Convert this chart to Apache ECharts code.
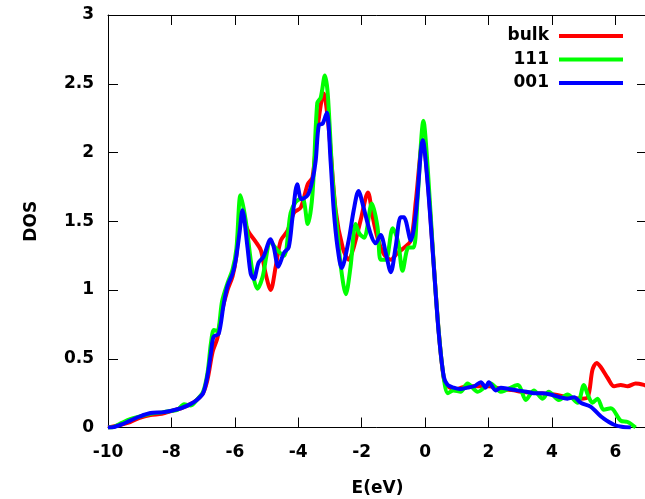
<!DOCTYPE html>
<html>
<head>
<meta charset="utf-8">
<script src="https://cdn.jsdelivr.net/npm/echarts@6/dist/echarts.min.js"></script>
<style>html,body{margin:0;padding:0;background:#fff;}#c{width:645px;height:499px;}</style>
</head>
<body>
<div id="c"></div>
<script>
const seriesNames = ['bulk', '111', '001'];

const bulkE = [-10,-9.6,-9.3,-9.0,-8.66,-8.3,-8.0,-7.7,-7.4,-7.2,-7.0,-6.86,-6.7,-6.55,-6.4,-6.23,-6.07,-5.95,-5.82,-5.7,-5.56,-5.34,-5.18,-5.03,-4.87,-4.71,-4.55,-4.34,-4.14,-3.92,-3.7,-3.55,-3.39,-3.2,-3.04,-2.82,-2.6,-2.41,-2.25,-2.03,-1.8,-1.65,-1.5,-1.3,-1.08,-0.87,-0.7,-0.45,-0.29,-0.07,0.08,0.27,0.43,0.59,0.72,1.0,1.3,1.6,2.0,2.4,2.8,3.02,3.5,4.07,4.5,4.91,5.13,5.28,5.41,5.54,5.76,5.96,6.17,6.39,6.64,6.9,7.0];
const bulkDOS = [0,0.02,0.04,0.07,0.09,0.1,0.12,0.14,0.17,0.2,0.25,0.35,0.55,0.65,0.85,1.0,1.1,1.25,1.56,1.5,1.42,1.35,1.29,1.12,1.0,1.17,1.36,1.43,1.56,1.6,1.77,1.82,2.18,2.43,2.18,1.58,1.31,1.22,1.31,1.51,1.71,1.53,1.38,1.26,1.22,1.27,1.3,1.36,1.65,2.09,1.8,1.2,0.7,0.36,0.3,0.28,0.3,0.3,0.3,0.28,0.27,0.26,0.25,0.24,0.22,0.21,0.22,0.42,0.47,0.44,0.36,0.30,0.31,0.30,0.32,0.31,0.3];

const e111 = [-10,-9.9,-9.6,-9.3,-9.0,-8.66,-8.3,-8.03,-7.8,-7.6,-7.4,-7.2,-7.0,-6.86,-6.75,-6.66,-6.55,-6.4,-6.23,-6.07,-5.95,-5.82,-5.66,-5.45,-5.29,-5.13,-4.87,-4.66,-4.45,-4.24,-4.08,-3.87,-3.7,-3.55,-3.4,-3.29,-3.16,-3.07,-2.92,-2.76,-2.64,-2.5,-2.35,-2.19,-2.07,-1.92,-1.68,-1.5,-1.4,-1.24,-1.02,-0.85,-0.71,-0.52,-0.36,-0.24,-0.05,0.08,0.27,0.43,0.59,0.72,0.9,1.12,1.34,1.66,2.07,2.39,2.92,3.18,3.43,3.71,3.9,4.22,4.49,4.81,5.01,5.13,5.28,5.44,5.63,5.86,6.17,6.39,6.64];
const dos111 = [0,0,0.03,0.06,0.08,0.1,0.11,0.12,0.13,0.17,0.16,0.2,0.26,0.4,0.62,0.71,0.7,0.92,1.05,1.15,1.3,1.69,1.51,1.14,1.01,1.09,1.35,1.29,1.25,1.56,1.64,1.67,1.48,1.70,2.36,2.40,2.56,2.43,1.82,1.41,1.14,0.97,1.17,1.48,1.41,1.38,1.63,1.46,1.22,1.22,1.45,1.35,1.14,1.31,1.31,1.65,2.23,1.9,1.2,0.7,0.36,0.25,0.27,0.26,0.32,0.26,0.32,0.26,0.31,0.2,0.27,0.21,0.26,0.2,0.24,0.18,0.31,0.24,0.18,0.21,0.13,0.14,0.05,0.04,0];

const e001 = [-10,-9.9,-9.6,-9.3,-9.0,-8.66,-8.3,-8.03,-7.7,-7.4,-7.2,-7.0,-6.86,-6.75,-6.67,-6.51,-6.35,-6.23,-6.07,-5.97,-5.85,-5.76,-5.6,-5.5,-5.4,-5.25,-5.1,-4.87,-4.77,-4.63,-4.45,-4.3,-4.18,-4.03,-3.9,-3.7,-3.55,-3.45,-3.35,-3.23,-3.1,-2.98,-2.88,-2.76,-2.63,-2.41,-2.25,-2.1,-1.94,-1.72,-1.56,-1.4,-1.24,-1.08,-0.93,-0.77,-0.67,-0.45,-0.29,-0.07,0.08,0.27,0.43,0.59,0.71,0.9,1.1,1.34,1.55,1.76,1.91,2.01,2.23,2.39,2.65,2.92,3.2,3.43,3.7,3.96,4.25,4.49,4.7,4.91,5.23,5.55,5.8,5.96,6.2,6.49];
const dos001 = [0,0,0.02,0.05,0.08,0.105,0.11,0.12,0.14,0.17,0.2,0.25,0.38,0.55,0.66,0.68,0.90,1.03,1.12,1.22,1.42,1.58,1.31,1.12,1.08,1.2,1.24,1.37,1.31,1.17,1.27,1.31,1.53,1.77,1.66,1.69,1.8,1.94,2.2,2.21,2.29,1.94,1.58,1.31,1.16,1.36,1.58,1.72,1.60,1.41,1.34,1.40,1.27,1.13,1.31,1.53,1.53,1.36,1.56,2.09,1.78,1.19,0.69,0.37,0.31,0.29,0.28,0.29,0.3,0.33,0.29,0.33,0.27,0.29,0.28,0.27,0.26,0.25,0.25,0.24,0.22,0.21,0.22,0.18,0.15,0.08,0.04,0.02,0.005,0];

const xTicks = {min: -10, max: 7, interval: 2};
const yTicks = {min: 0, max: 3, interval: 0.5};

function pairs(xs, ys) { return xs.map((x, i) => [x, ys[i]]); }

const font = 'DejaVu Sans';
const chart = echarts.init(document.getElementById('c'), null, {renderer: 'canvas'});

const axisCommon = {
  axisLine: {show: true, onZero: false, lineStyle: {color: '#000', width: 1}},
  axisTick: {show: true, inside: true, length: 10, lineStyle: {color: '#000', width: 1}},
  splitLine: {show: false}
};

chart.setOption({
  animation: false,
  backgroundColor: '#fff',
  grid: {left: 108, right: -2, top: 15, bottom: 71.5, containLabel: false, outerBoundsMode: 'none'},
  legend: {
    data: seriesNames,
    orient: 'vertical',
    right: 17,
    top: 22,
    align: 'right',
    icon: 'rect',
    itemWidth: 64,
    itemHeight: 4,
    itemGap: 5.5,
    textStyle: {fontFamily: font, fontWeight: 'bold', fontSize: 17, color: '#000', lineHeight: 18, padding: [0, 5, 0, 0]}
  },
  xAxis: [
    Object.assign({
      type: 'value', position: 'bottom', min: xTicks.min, max: xTicks.max, interval: xTicks.interval,
      name: 'E(eV)', nameLocation: 'middle', nameGap: 53,
      nameTextStyle: {fontFamily: font, fontWeight: 'bold', fontSize: 17, color: '#000'},
      axisLabel: {show: true, showMaxLabel: false, margin: 17, fontFamily: font, fontWeight: 'bold', fontSize: 17, color: '#000'}
    }, axisCommon),
    Object.assign({
      type: 'value', position: 'top', min: xTicks.min, max: xTicks.max, interval: xTicks.interval,
      axisLabel: {show: false}
    }, axisCommon)
  ],
  yAxis: [
    Object.assign({
      type: 'value', position: 'left', min: yTicks.min, max: yTicks.max, interval: yTicks.interval,
      name: 'DOS', nameLocation: 'middle', nameGap: 68, nameRotate: 90,
      nameTextStyle: {fontFamily: font, fontWeight: 'bold', fontSize: 17, color: '#000'},
      axisLabel: {show: true, margin: 14, fontFamily: font, fontWeight: 'bold', fontSize: 17, color: '#000'}
    }, axisCommon),
    Object.assign({
      type: 'value', position: 'right', min: yTicks.min, max: yTicks.max, interval: yTicks.interval,
      axisLabel: {show: false}
    }, axisCommon)
  ],
  series: [
    {name: seriesNames[0], type: 'line', data: pairs(bulkE, bulkDOS), color: '#ff0000', smooth: 0.3, showSymbol: false, lineStyle: {width: 4, color: '#ff0000'}, z: 2},
    {name: seriesNames[1], type: 'line', data: pairs(e111, dos111), color: '#00ff00', smooth: 0.3, showSymbol: false, lineStyle: {width: 4, color: '#00ff00'}, z: 3},
    {name: seriesNames[2], type: 'line', data: pairs(e001, dos001), color: '#0000ff', smooth: 0.3, showSymbol: false, lineStyle: {width: 4, color: '#0000ff'}, z: 4}
  ]
});
</script>
</body>
</html>
